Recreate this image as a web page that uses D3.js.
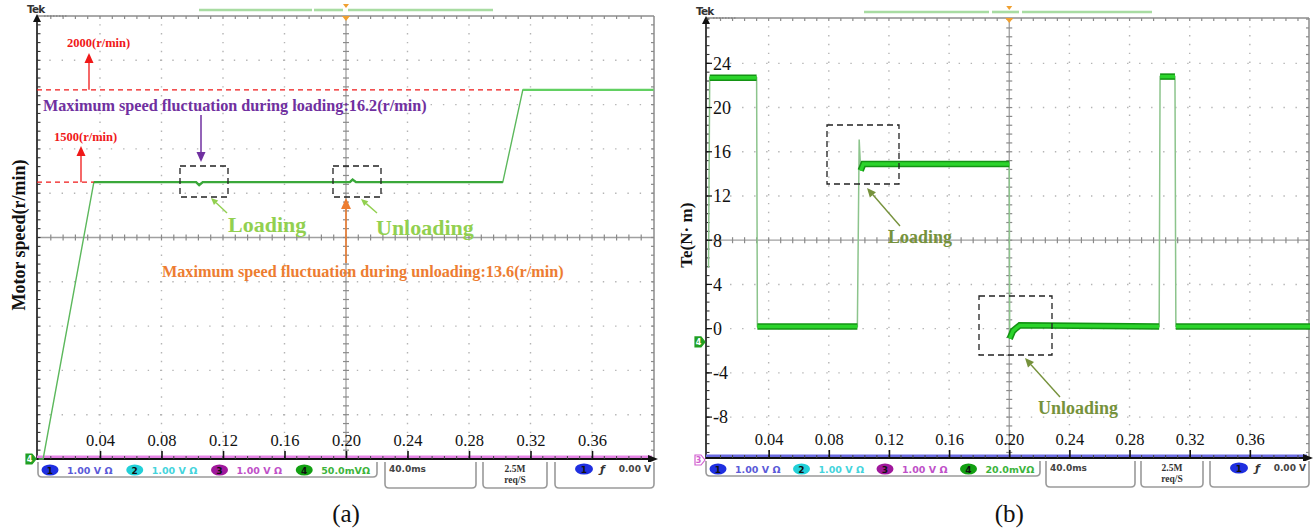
<!DOCTYPE html>
<html>
<head>
<meta charset="utf-8">
<script src="https://cdn.jsdelivr.net/npm/d3@7"></script>
<style>
  html, body { margin: 0; padding: 0; background: #fff; }
  #chart { width: 1315px; height: 531px; }
  text { font-family: 'Times New Roman', 'Liberation Serif', serif; }
  text.scope, .scope text { font-family: 'DejaVu Sans', 'Liberation Sans', sans-serif; font-weight: bold; }
</style>
</head>
<body>
<div id="chart"></div>
<script>
// shared time axis (seconds)
const timeTicks = [0.04, 0.08, 0.12, 0.16, 0.20, 0.24, 0.28, 0.32, 0.36];
const timeTickLabels = ['0.04', '0.08', '0.12', '0.16', '0.20', '0.24', '0.28', '0.32', '0.36'];

// (a) motor speed, r/min
const speedTime  = [0, 0.003, 0.036, 0.1025, 0.1045, 0.1068, 0.2025, 0.2043, 0.2065, 0.302, 0.315, 0.4];
const speedValue = [0, 0, 1500, 1500, 1484, 1500, 1500, 1514, 1500, 1500, 2000, 2000];
const speedRefLevels = [1500, 2000];
const speedRefLabels = ['1500(r/min)', '2000(r/min)'];

// (b) electromagnetic torque, N·m
const torqueTicks = [24, 20, 16, 12, 8, 4, 0, -4, -8];
const torqueTime  = [0, 0.0008, 0.032, 0.0325, 0.099, 0.1002, 0.1012, 0.103, 0.2, 0.2003, 0.2025, 0.207, 0.2997, 0.3003, 0.3102, 0.3108, 0.4];
const torqueValue = [5.5, 22.7, 22.7, 0.2, 0.2, 17.1, 14.3, 14.9, 14.9, -0.9, -0.2, 0.3, 0.2, 22.8, 22.8, 0.2, 0.2];
// index ranges of the steady (noisy, thick) parts of the trace
const torqueBands = [[1, 2], [3, 4], [6, 8], [9, 12], [13, 14], [15, 16]];

// scope status bar
const channelIds = ['1', '2', '3', '4'];
const channelFills = ['#1f2fe0', '#22d0d8', '#a0189c', '#12a012'];
const channelTextColors = ['#5a5ad8', '#44d4dc', '#c050c8', '#3cb43c'];
const channelScalesA = ['1.00 V  \u03a9', '1.00 V  \u03a9', '1.00 V  \u03a9', '50.0mV\u03a9'];
const channelScalesB = ['1.00 V  \u03a9', '1.00 V  \u03a9', '1.00 V  \u03a9', '20.0mV\u03a9'];
const timeBase = '40.0ms';
const sampleRate = ['2.5M', 'req/S'];
const triggerLevel = '0.00 V';

const viz = {
  width: 1315,
  height: 531,
  gridColor: '#b4b4b4',
  frameColor: '#8c8c8c',

  init() {
    this.svg = d3.select('#chart').append('svg')
      .attr('width', this.width)
      .attr('height', this.height);
    this.svg.append('rect')
      .attr('width', this.width).attr('height', this.height)
      .attr('fill', '#fff');

    const left = {
      x: d3.scaleLinear([0, 0.4], [38.5, 653.5]),
      y: d3.scaleLinear([0, 2400], [459, 16]),
      x0: 37, x1: 654, y0: 16, y1: 459,
      yGrid: d3.range(240, 2400, 240), yMid: 1200, yMinor: 48,
      band: '#e684e6',
      status: { ch: [38, 377], tb: [385, 476], sr: [483, 547], tr: [555, 654] },
      scales: channelScalesA,
      topBar: [[199, 312], [314, 343], [348, 493]],
      caption: '(a)'
    };
    const right = {
      x: d3.scaleLinear([0, 0.4], [708.5, 1310]),
      y: d3.scaleLinear([-11.7, 28.1], [458, 18]),
      x0: 706, x1: 1309, y0: 18, y1: 458,
      yGrid: torqueTicks, yMid: 8, yMinor: 0.8,
      band: '#6c6ce2',
      status: { ch: [706, 1040], tb: [1046, 1135], sr: [1141, 1203], tr: [1210, 1309] },
      scales: channelScalesB,
      topBar: [[864, 989], [992, 1019], [1022, 1152]],
      caption: '(b)'
    };

    this.drawFrame(left);
    this.drawFrame(right);
    this.drawSpeed(left);
    this.drawTorque(right);
    this.annotateSpeed(left);
    this.annotateTorque(right);
    this.drawStatus(left);
    this.drawStatus(right);
  },

  drawFrame(p) {
    const g = this.svg.append('g');
    const dx = p.x(0.04) - p.x(0);
    const dy = Math.abs(p.y(p.yGrid[1]) - p.y(p.yGrid[0]));

    // dotted graticule
    g.selectAll('line.vgrid')
      .data(timeTicks.filter((t) => Math.abs(t - 0.2) > 1e-6))
      .join('line')
      .attr('x1', (d) => p.x(d)).attr('x2', (d) => p.x(d))
      .attr('y1', p.y0).attr('y2', p.y1)
      .attr('stroke', this.gridColor).attr('stroke-width', 1.4)
      .attr('stroke-dasharray', `1.4,${(dy / 5 - 1.4).toFixed(2)}`)
      .attr('stroke-dashoffset', -(dy / 5 - 0.7));
    g.selectAll('line.hgrid')
      .data(p.yGrid.filter((v) => v !== p.yMid))
      .join('line')
      .attr('x1', p.x0).attr('x2', p.x1)
      .attr('y1', (d) => p.y(d)).attr('y2', (d) => p.y(d))
      .attr('stroke', this.gridColor).attr('stroke-width', 1.4)
      .attr('stroke-dasharray', `1.4,${(dx / 5 - 1.4).toFixed(2)}`);

    // solid centre cross with minor ticks
    const cx = p.x(0.2);
    const cy = p.y(p.yMid);
    g.append('line').attr('x1', p.x0).attr('x2', p.x1).attr('y1', cy).attr('y2', cy)
      .attr('stroke', '#a0a0a0').attr('stroke-width', 1.3);
    g.append('line').attr('x1', cx).attr('x2', cx).attr('y1', p.y0).attr('y2', p.y1)
      .attr('stroke', '#a0a0a0').attr('stroke-width', 1.3);

    const xMinor = d3.range(0.008, 0.4, 0.008);
    const yLo = p.y.domain()[0];
    const yHi = p.y.domain()[1];
    const yMinor = d3.range(p.yMid - p.yMinor * 60, yHi, p.yMinor)
      .filter((v) => v > yLo && v < yHi);

    g.selectAll('line.cxm').data(xMinor).join('line')
      .attr('x1', (d) => p.x(d)).attr('x2', (d) => p.x(d))
      .attr('y1', cy - 3).attr('y2', cy + 3)
      .attr('stroke', '#8a8a8a').attr('stroke-width', 1.2);
    g.selectAll('line.cym').data(yMinor).join('line')
      .attr('x1', cx - 3).attr('x2', cx + 3)
      .attr('y1', (d) => p.y(d)).attr('y2', (d) => p.y(d))
      .attr('stroke', '#8a8a8a').attr('stroke-width', 1.2);

    // frame: top and right borders with inner ticks
    g.append('line').attr('x1', p.x0).attr('x2', p.x1).attr('y1', p.y0).attr('y2', p.y0)
      .attr('stroke', this.frameColor).attr('stroke-width', 1.5);
    g.append('line').attr('x1', p.x1).attr('x2', p.x1).attr('y1', p.y0).attr('y2', p.y1)
      .attr('stroke', this.frameColor).attr('stroke-width', 1.5);
    g.selectAll('line.tm').data(xMinor).join('line')
      .attr('x1', (d) => p.x(d)).attr('x2', (d) => p.x(d))
      .attr('y1', p.y0).attr('y2', p.y0 + 3)
      .attr('stroke', '#8a8a8a').attr('stroke-width', 1.2);
    g.selectAll('line.rm').data(yMinor).join('line')
      .attr('x1', p.x1 - 3).attr('x2', p.x1)
      .attr('y1', (d) => p.y(d)).attr('y2', (d) => p.y(d))
      .attr('stroke', '#8a8a8a').attr('stroke-width', 1.2);

    // "Tek" badge and the trigger / record bar above
    g.append('text').attr('class', 'scope')
      .attr('x', p.x0 - 10).attr('y', p.y0 - 3)
      .attr('font-size', 10.5).attr('fill', '#333').attr('letter-spacing', -0.8)
      .text('Tek');
    g.append('line').attr('x1', p.x0 + 7).attr('x2', p.x0 + 31)
      .attr('y1', p.y0).attr('y2', p.y0)
      .attr('stroke', '#777').attr('stroke-dasharray', '1.5,1.5');
    g.selectAll('line.bar').data(p.topBar).join('line')
      .attr('x1', (d) => d[0]).attr('x2', (d) => d[1])
      .attr('y1', p.y0 - 6).attr('y2', p.y0 - 6)
      .attr('stroke', '#a8dca2').attr('stroke-width', 2.6);
    g.append('path')
      .attr('d', `M${cx - 3},${p.y0 - 12}h6l-3,4z M${cx - 4},${p.y0}h8l-4,5z`)
      .attr('fill', '#f0a030');

    // left axis with arrow and dark minor ticks
    g.append('line').attr('x1', p.x0).attr('x2', p.x0).attr('y1', p.y0 + 2).attr('y2', p.y1 + 1)
      .attr('stroke', '#111').attr('stroke-width', 1.6);
    g.append('path').attr('d', `M${p.x0 - 4},${p.y0 + 6}L${p.x0},${p.y0 - 2}L${p.x0 + 4},${p.y0 + 6}z`)
      .attr('fill', '#111');
    g.selectAll('line.lm').data(yMinor).join('line')
      .attr('x1', p.x0).attr('x2', p.x0 + 3.5)
      .attr('y1', (d) => p.y(d)).attr('y2', (d) => p.y(d))
      .attr('stroke', '#333').attr('stroke-width', 1.1);

    // bottom time axis over the channel baseline band
    g.append('rect').attr('x', p.x0).attr('y', p.y1 - 3.5)
      .attr('width', p.x1 - p.x0 - 2).attr('height', 3)
      .attr('fill', p.band);
    g.append('line').attr('x1', p.x0).attr('x2', p.x1 + 1).attr('y1', p.y1).attr('y2', p.y1)
      .attr('stroke', '#111').attr('stroke-width', 1.8);
    g.append('path').attr('d', `M${p.x1 - 6},${p.y1 - 4}L${p.x1 + 4},${p.y1}L${p.x1 - 6},${p.y1 + 4}z`)
      .attr('fill', '#111');
    g.selectAll('line.bm').data(xMinor).join('line')
      .attr('x1', (d) => p.x(d)).attr('x2', (d) => p.x(d))
      .attr('y1', p.y1 - 3).attr('y2', p.y1)
      .attr('stroke', '#444').attr('stroke-width', 1);

    const xAxis = d3.axisBottom(p.x)
      .tickValues(timeTicks)
      .tickFormat((d, i) => timeTickLabels[i])
      .tickSize(0)
      .tickPadding(0);
    const axisG = g.append('g').attr('transform', `translate(0,${p.y1})`).call(xAxis);
    axisG.select('.domain').remove();
    axisG.selectAll('.tick line').remove();
    axisG.selectAll('.tick').append('line')
      .attr('y1', -8).attr('y2', 0).attr('stroke', '#111').attr('stroke-width', 1.6);
    axisG.selectAll('.tick text')
      .attr('dy', null).attr('y', -13)
      .attr('font-size', 16.5).attr('fill', '#111')
      .attr('font-family', "'Times New Roman', 'Liberation Serif', serif");

    // panel caption
    this.svg.append('text')
      .attr('x', p.x(0.2)).attr('y', 522)
      .attr('text-anchor', 'middle').attr('font-size', 25).attr('fill', '#111')
      .text(p.caption);
  },

  drawSpeed(p) {
    const line = d3.line().x((d) => p.x(d[0])).y((d) => p.y(d[1]));
    const pts = d3.zip(speedTime, speedValue);
    this.svg.append('path').datum(pts)
      .attr('d', line).attr('fill', 'none')
      .attr('stroke', '#5cb85c').attr('stroke-width', 1.4);
    // steady parts are drawn heavier
    const steady = pts.slice(2, 10);
    this.svg.append('path').datum(steady)
      .attr('d', line).attr('fill', 'none')
      .attr('stroke', '#3aa83a').attr('stroke-width', 2.4);
    this.svg.append('path').datum(pts.slice(10))
      .attr('d', line).attr('fill', 'none')
      .attr('stroke', '#62d062').attr('stroke-width', 2.2);

    // channel 4 ground marker
    this.marker(p.x0 - 7, p.y(0), '#22a022', '4');
  },

  drawTorque(p) {
    const line = d3.line().x((d) => p.x(d[0])).y((d) => p.y(d[1]));
    const pts = d3.zip(torqueTime, torqueValue);
    this.svg.append('path').datum(pts)
      .attr('d', line).attr('fill', 'none')
      .attr('stroke', '#8cc48c').attr('stroke-width', 1.5);
    const bands = this.svg.append('g');
    torqueBands.forEach(([a, b]) => {
      const seg = pts.slice(a, b + 1);
      bands.append('path').datum(seg).attr('d', line).attr('fill', 'none')
        .attr('stroke', '#149414').attr('stroke-width', 6.5);
      bands.append('path').datum(seg).attr('d', line).attr('fill', 'none')
        .attr('stroke', '#2bd42b').attr('stroke-width', 3.4);
    });

    // y tick labels written inside the axis
    const ticks = this.svg.append('g');
    ticks.selectAll('line').data(torqueTicks).join('line')
      .attr('x1', p.x0).attr('x2', p.x0 + 6)
      .attr('y1', (d) => p.y(d)).attr('y2', (d) => p.y(d))
      .attr('stroke', '#111').attr('stroke-width', 1.2);
    ticks.selectAll('text').data(torqueTicks).join('text')
      .attr('x', p.x0 + 7).attr('y', (d) => p.y(d)).attr('dy', '0.35em')
      .attr('font-size', 18).attr('fill', '#111')
      .text((d) => d);

    this.marker(p.x0 - 7, p.y(-1.2), '#22a022', '4');
    this.marker(p.x0 - 7, p.y1 + 2, '#d060d0', '3', true);

    this.svg.append('text')
      .attr('transform', `translate(692,${p.y(8) - 5}) rotate(-90)`)
      .attr('text-anchor', 'middle').attr('font-size', 17).attr('font-weight', 'bold')
      .attr('fill', '#111')
      .text('Te(N\u00b7 m)');
  },

  marker(x, y, color, label, outline) {
    const g = this.svg.append('g').attr('class', 'scope').attr('transform', `translate(${x},${y})`);
    g.append('path').attr('d', 'M-4,-5h6l4,5l-4,5h-6z')
      .attr('fill', outline ? '#fff' : color)
      .attr('stroke', color).attr('stroke-width', 1.2);
    g.append('text').attr('x', -0.5).attr('y', 3)
      .attr('text-anchor', 'middle').attr('font-size', 8)
      .attr('fill', outline ? color : '#fff').text(label);
  },

  arrow(x1, y1, x2, y2, color, width, head) {
    const ang = Math.atan2(y2 - y1, x2 - x1);
    const bx = x2 - head * Math.cos(ang);
    const by = y2 - head * Math.sin(ang);
    const w = head * 0.45;
    this.svg.append('line')
      .attr('x1', x1).attr('y1', y1).attr('x2', bx).attr('y2', by)
      .attr('stroke', color).attr('stroke-width', width);
    const nx = -Math.sin(ang) * w;
    const ny = Math.cos(ang) * w;
    this.svg.append('path')
      .attr('d', `M${x2},${y2}L${bx + nx},${by + ny}L${bx - nx},${by - ny}z`)
      .attr('fill', color);
  },

  dashedBox(x1, y1, x2, y2) {
    this.svg.append('rect')
      .attr('x', x1).attr('y', y1).attr('width', x2 - x1).attr('height', y2 - y1)
      .attr('fill', 'none').attr('stroke', '#222').attr('stroke-width', 1.3)
      .attr('stroke-dasharray', '6,4');
  },

  label(x, y, str, color, size, anchor) {
    return this.svg.append('text')
      .attr('x', x).attr('y', y)
      .attr('text-anchor', anchor || 'start')
      .attr('font-size', size).attr('font-weight', 'bold').attr('fill', color)
      .text(str);
  },

  annotateSpeed(p) {
    const red = '#f01818';
    const purple = '#7030a0';
    const orange = '#ed7d31';
    const lime = '#92d050';

    // reference levels
    const ends = [p.x(speedTime[2]), p.x(speedTime[10])];
    speedRefLevels.forEach((v, i) => {
      this.svg.append('line')
        .attr('x1', p.x0).attr('x2', ends[i])
        .attr('y1', p.y(v)).attr('y2', p.y(v))
        .attr('stroke', red).attr('stroke-width', 1.3).attr('stroke-dasharray', '5,4');
    });
    this.arrow(81, p.y(1500), 81, 146, red, 1.3, 10);
    this.arrow(89, p.y(2000), 89, 53, red, 1.3, 10);
    this.label(54, 141, speedRefLabels[0], red, 12.5);
    this.label(67, 47, speedRefLabels[1], red, 12.5);

    // loading
    this.label(43, 111, 'Maximum speed fluctuation during loading:16.2(r/min)', purple, 16.2);
    this.arrow(201, 115, 201, 162, purple, 1.5, 10);
    this.dashedBox(180, 166, 228, 197);
    this.arrow(227, 213, 211, 198, lime, 1.4, 7);
    this.label(228, 232, 'Loading', lime, 22);

    // unloading
    this.dashedBox(333, 166, 381, 197);
    this.arrow(377, 213, 361, 199, lime, 1.4, 7);
    this.label(376, 235, 'Unloading', lime, 22);
    this.arrow(p.x(0.2), 263, p.x(0.2), 198, orange, 1.6, 11);
    this.label(162, 277, 'Maximum speed fluctuation during unloading:13.6(r/min)', orange, 16.2);

    this.svg.append('text')
      .attr('transform', `translate(25,${235}) rotate(-90)`)
      .attr('text-anchor', 'middle').attr('font-size', 18).attr('font-weight', 'bold')
      .attr('fill', '#111')
      .text('Motor speed(r/min)');
  },

  annotateTorque() {
    const olive = '#76923c';
    this.dashedBox(827, 125, 899, 184);
    this.arrow(900, 226, 867, 188, olive, 1.4, 9);
    this.label(888, 243, 'Loading', olive, 18);

    this.dashedBox(979, 296, 1052, 355);
    this.arrow(1060, 397, 1025, 358, olive, 1.4, 9);
    this.label(1038, 414, 'Unloading', olive, 18);
  },

  statusBox(x1, x2, y1, h) {
    this.svg.append('path')
      .attr('d', `M${x1},${y1}V${y1 + h - 4}q0,4 4,4H${x2 - 4}q4,0 4,-4V${y1}`)
      .attr('fill', '#fff').attr('stroke', '#9a9a9a').attr('stroke-width', 1.6);
  },

  drawStatus(p) {
    const s = p.status;
    const top = p.y1 + 3;
    this.statusBox(s.ch[0], s.ch[1], top, 15);
    this.statusBox(s.tb[0], s.tb[1], top, 26);
    this.statusBox(s.sr[0], s.sr[1], top, 26);
    this.statusBox(s.tr[0], s.tr[1], top, 26);

    const step = (s.ch[1] - s.ch[0]) / 4;
    const g = this.svg.append('g').attr('class', 'scope');
    channelIds.forEach((id, i) => {
      const x = s.ch[0] + 12 + i * step;
      g.append('ellipse').attr('cx', x).attr('cy', top + 8).attr('rx', 8.5).attr('ry', 5.5)
        .attr('fill', channelFills[i]);
      g.append('text').attr('x', x).attr('y', top + 11.5).attr('text-anchor', 'middle')
        .attr('font-size', 9).attr('fill', '#111').text(id);
      g.append('text').attr('x', x + 17).attr('y', top + 12)
        .attr('font-size', 9.5).attr('fill', channelTextColors[i]).text(p.scales[i]);
    });

    g.append('text').attr('x', s.tb[0] + 4).attr('y', top + 10)
      .attr('font-size', 9).attr('fill', '#444').text(timeBase);
    const mid = (s.sr[0] + s.sr[1]) / 2;
    sampleRate.forEach((str, i) => {
      this.svg.append('text').attr('x', mid).attr('y', top + 10 + i * 11)
        .attr('text-anchor', 'middle').attr('font-size', 9.5).attr('font-weight', 'bold')
        .attr('fill', '#333').text(str);
    });
    g.append('ellipse').attr('cx', s.tr[0] + 29).attr('cy', top + 7).attr('rx', 9).attr('ry', 5.5)
      .attr('fill', channelFills[0]);
    g.append('text').attr('x', s.tr[0] + 29).attr('y', top + 10.5).attr('text-anchor', 'middle')
      .attr('font-size', 9).attr('fill', '#111').text(channelIds[0]);
    g.append('text').attr('x', s.tr[0] + 45).attr('y', top + 11)
      .attr('font-size', 11).attr('font-style', 'italic').attr('fill', '#333').text('\u0192');
    g.append('text').attr('x', s.tr[1] - 3).attr('y', top + 10).attr('text-anchor', 'end')
      .attr('font-size', 9).attr('fill', '#444').text(triggerLevel);
  }
};

viz.init();
</script>
</body>
</html>
